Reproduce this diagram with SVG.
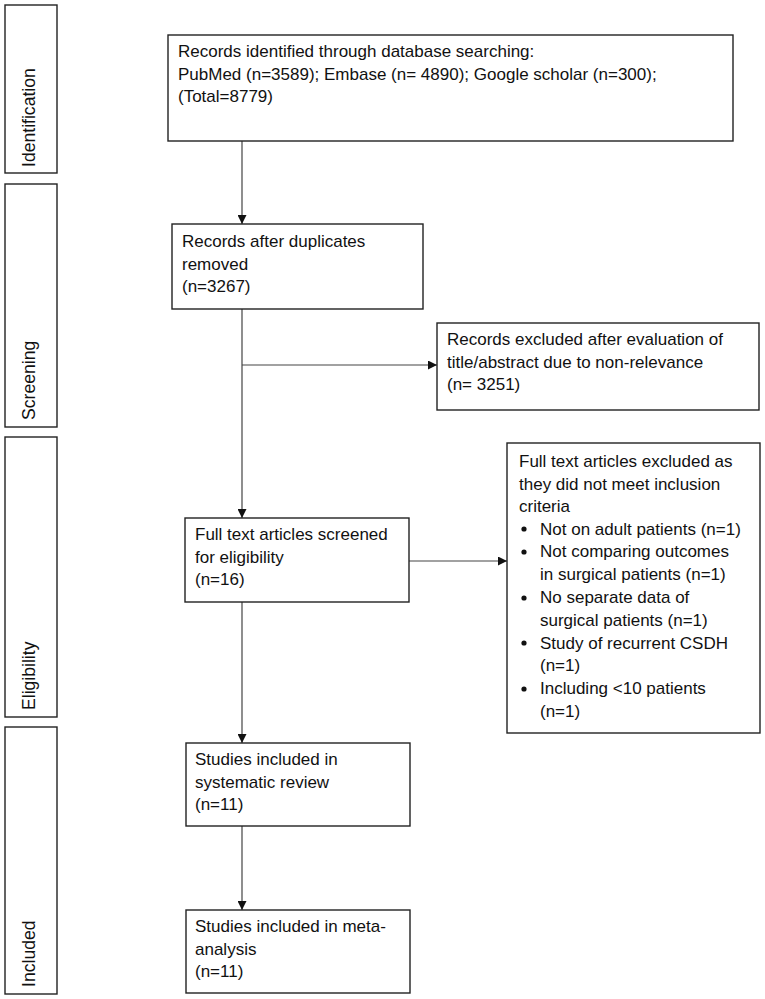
<svg xmlns="http://www.w3.org/2000/svg" width="765" height="999" viewBox="0 0 765 999">
<style>
.box{fill:#fff;stroke:#222;stroke-width:1.4}
.t{font-family:"Liberation Sans",Arial,sans-serif;font-size:17px;fill:#111}
.s{font-size:17.6px}
.c{stroke:#444;stroke-width:1.2;fill:none}
</style>
<defs>
<marker id="ah" viewBox="0 0 10 10" refX="10" refY="5" markerWidth="9" markerHeight="9" markerUnits="userSpaceOnUse" orient="auto">
<path d="M0,0 L10,5 L0,10 Z" fill="#111"/>
</marker>
</defs>
<rect width="765" height="999" fill="#fff"/>
<g id="phase-identification">
<rect class="box" x="5" y="5" width="52" height="168"/>
<text class="t s" transform="translate(35,167) rotate(-90)">Identification</text>
</g>
<g id="phase-screening">
<rect class="box" x="5" y="184" width="52" height="243"/>
<text class="t s" transform="translate(35,420) rotate(-90)">Screening</text>
</g>
<g id="phase-eligibility">
<rect class="box" x="5" y="437" width="52" height="280"/>
<text class="t s" transform="translate(35,710) rotate(-90)">Eligibility</text>
</g>
<g id="phase-included">
<rect class="box" x="5" y="727" width="52" height="267"/>
<text class="t s" transform="translate(35,987) rotate(-90)">Included</text>
</g>
<g id="connectors">
<line class="c" x1="242" y1="141" x2="242" y2="224" marker-end="url(#ah)"/>
<line class="c" x1="242" y1="309" x2="242" y2="518" marker-end="url(#ah)"/>
<line class="c" x1="242" y1="365" x2="437" y2="365" marker-end="url(#ah)"/>
<line class="c" x1="409" y1="561" x2="507" y2="561" marker-end="url(#ah)"/>
<line class="c" x1="242" y1="602" x2="242" y2="743" marker-end="url(#ah)"/>
<line class="c" x1="242" y1="826" x2="242" y2="910" marker-end="url(#ah)"/>
</g>
<g id="node-identified">
<rect class="box" x="168" y="35" width="565" height="106"/>
<text class="t" x="178" y="57">Records identified through database searching:</text>
<text class="t" x="178" y="79.5">PubMed (n=3589); Embase (n= 4890); Google scholar (n=300);</text>
<text class="t" x="178" y="102">(Total=8779)</text>
</g>
<g id="node-duplicates">
<rect class="box" x="172" y="224" width="251" height="85"/>
<text class="t" x="182" y="247">Records after duplicates</text>
<text class="t" x="182" y="269.5">removed</text>
<text class="t" x="182" y="292">(n=3267)</text>
</g>
<g id="node-excluded-title">
<rect class="box" x="437" y="323" width="322" height="87"/>
<text class="t" x="447" y="345">Records excluded after evaluation of</text>
<text class="t" x="447" y="367.5">title/abstract due to non-relevance</text>
<text class="t" x="447" y="390">(n= 3251)</text>
</g>
<g id="node-fulltext">
<rect class="box" x="185" y="518" width="224" height="84"/>
<text class="t" x="195" y="540">Full text articles screened</text>
<text class="t" x="195" y="562.5">for eligibility</text>
<text class="t" x="195" y="585">(n=16)</text>
</g>
<g id="node-excluded-fulltext">
<rect class="box" x="507" y="443" width="253" height="290"/>
<text class="t" x="519" y="467">Full text articles excluded as</text>
<text class="t" x="519" y="489.5">they did not meet inclusion</text>
<text class="t" x="519" y="512">criteria</text>
<g fill="#111">
<circle cx="524" cy="529" r="2.6"/>
<circle cx="524" cy="552" r="2.6"/>
<circle cx="524" cy="598" r="2.6"/>
<circle cx="524" cy="643" r="2.6"/>
<circle cx="524" cy="689" r="2.6"/>
</g>
<text class="t" x="540" y="534.5">Not on adult patients (n=1)</text>
<text class="t" x="540" y="557">Not comparing outcomes</text>
<text class="t" x="540" y="580">in surgical patients (n=1)</text>
<text class="t" x="540" y="603">No separate data of</text>
<text class="t" x="540" y="625.5">surgical patients (n=1)</text>
<text class="t" x="540" y="648.5">Study of recurrent CSDH</text>
<text class="t" x="540" y="671">(n=1)</text>
<text class="t" x="540" y="694">Including &lt;10 patients</text>
<text class="t" x="540" y="716.5">(n=1)</text>
</g>
<g id="node-systematic">
<rect class="box" x="186" y="743" width="224" height="83"/>
<text class="t" x="195" y="765">Studies included in</text>
<text class="t" x="195" y="787.5">systematic review</text>
<text class="t" x="195" y="810">(n=11)</text>
</g>
<g id="node-meta">
<rect class="box" x="186" y="910" width="224" height="83"/>
<text class="t" x="195" y="932">Studies included in meta-</text>
<text class="t" x="195" y="954.5">analysis</text>
<text class="t" x="195" y="977">(n=11)</text>
</g>
</svg>
